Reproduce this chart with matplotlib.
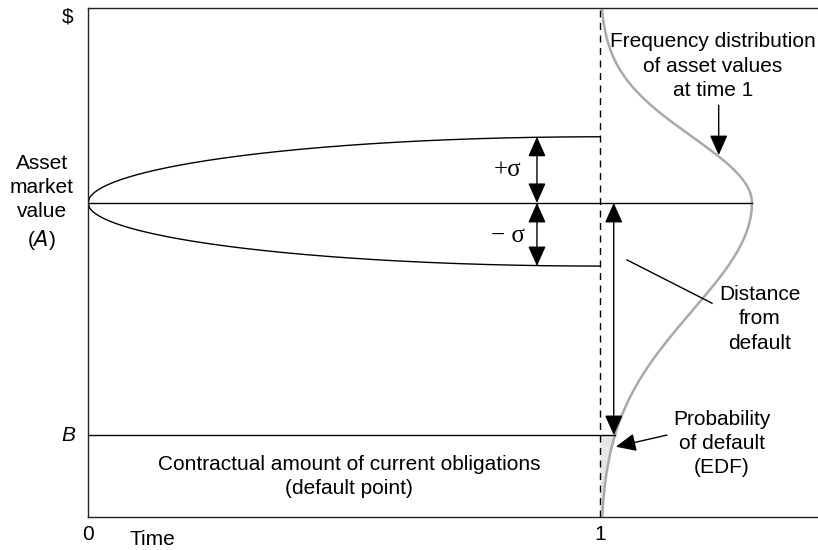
"""
KMV 模型示意圖：資產價值分佈、違約點與違約距離。
"""

import matplotlib
matplotlib.use("Agg")
import matplotlib.pyplot as plt
import numpy as np

plt.rcParams["font.family"] = ["Liberation Sans", "DejaVu Sans"]

# === 數值（由圖上讀取，y 軸以 0~100 的相對單位表示） ===
time_ticks = [0, 1]
time_labels = ["0", "1"]
asset_value = 61.7        # A：資產市值
default_point = 16.1      # B：違約點
sigma_up = 13.0           # +σ
sigma_down = 12.4         # -σ
dist_sd_upper = 13.0      # 分佈上半部寬度
dist_sd_lower = 21.2      # 分佈下半部寬度（左偏）
dist_peak = 0.297         # 分佈峰值在時間軸上的寬度
x_max = 1.426
y_max = 100.0

GRAY = "#a9a9a9"
FILL = "#e6e6e6"


def main() -> None:
    fig = plt.figure(figsize=(8.18, 5.5), dpi=100)
    ax = fig.add_axes([88 / 818, 33 / 550, 730 / 818, 509 / 550])
    ax.set_xlim(0, x_max)
    ax.set_ylim(0, y_max)

    for side in ["left", "bottom", "top"]:
        ax.spines[side].set_linewidth(1.0)
        ax.spines[side].set_color("#222222")
    ax.spines["right"].set_visible(False)
    ax.set_yticks([])
    ax.set_xticks(time_ticks)
    ax.set_xticklabels(time_labels, fontsize=15)
    ax.tick_params(axis="x", length=0, pad=6)

    # === 資產價值的 ±σ 包絡線（四分之一橢圓） ===
    t = np.linspace(0, 1, 300)
    spread = np.sqrt(np.clip(2 * t - t ** 2, 0, None))
    ax.plot(t, asset_value + sigma_up * spread, color="black", lw=1.0)
    ax.plot(t, asset_value - sigma_down * spread, color="black", lw=1.0)

    # 時間 1 的虛線
    ax.plot([1, 1], [0, y_max], color="black", lw=1.0, ls=(0, (5, 4)))

    # === 時間 1 的資產價值分佈 ===
    y = np.linspace(0, y_max, 600)
    sd = np.where(y >= asset_value, dist_sd_upper, dist_sd_lower)
    dens = dist_peak * np.exp(-((y - asset_value) ** 2) / (2 * sd ** 2))
    ax.plot(1 + dens, y, color=GRAY, lw=1.8, solid_capstyle="butt")

    below = y <= default_point
    ax.fill_betweenx(y[below], 1, 1 + dens[below], color=FILL, lw=0)

    # 平均線與違約點
    ax.plot([0, 1 + dist_peak], [asset_value, asset_value], color="black", lw=1.0)
    b_edge = 1 + dist_peak * np.exp(-((default_point - asset_value) ** 2) / (2 * dist_sd_lower ** 2))
    ax.plot([0, b_edge], [default_point, default_point], color="black", lw=1.0)

    # === 箭頭 ===
    dbl = dict(arrowstyle="<|-|>,head_length=0.56,head_width=0.25", color="black", lw=1.0,
               mutation_scale=22, shrinkA=0, shrinkB=0)
    one = dict(arrowstyle="-|>,head_length=0.56,head_width=0.25", color="black", lw=1.0,
               mutation_scale=22, shrinkA=0, shrinkB=0)
    ax.annotate("", xy=(0.877, asset_value + sigma_up), xytext=(0.877, asset_value), arrowprops=dbl)
    ax.annotate("", xy=(0.877, asset_value - sigma_down), xytext=(0.877, asset_value), arrowprops=dbl)
    ax.annotate("", xy=(1.027, default_point), xytext=(1.027, asset_value), arrowprops=dbl)
    ax.annotate("", xy=(1.232, 71.1), xytext=(1.232, 80.9), arrowprops=one)
    ax.annotate("", xy=(1.031, 13.8), xytext=(1.131, 16.1), arrowprops=one)
    ax.plot([1.053, 1.219], [50.5, 42.0], color="black", lw=1.0)

    # === 文字 ===
    fs = 15
    ls = 1.34
    ax.text(0.82, 68.2, "+σ", family=["Liberation Serif"], fontsize=18, ha="center", va="center")
    ax.text(0.82, 55.2, "− σ", family=["Liberation Serif"], fontsize=18, ha="center", va="center")
    ax.text(1.221, 88.6, "Frequency distribution\nof asset values\nat time 1",
            fontsize=fs, ha="center", va="center", linespacing=ls)
    ax.text(1.3125, 38.9, "Distance\nfrom\ndefault",
            fontsize=fs, ha="center", va="center", linespacing=ls)
    ax.text(1.238, 14.5, "Probability\nof default\n(EDF)",
            fontsize=fs, ha="center", va="center", linespacing=ls)
    ax.text(0.51, 7.9, "Contractual amount of current obligations\n(default point)",
            fontsize=fs, ha="center", va="center", linespacing=ls)
    ax.text(-0.09, asset_value, "Asset\nmarket\nvalue\n($\\mathit{A}$)",
            fontsize=fs, ha="center", va="center", linespacing=ls, clip_on=False)
    ax.text(-0.039, 98.2, "$", fontsize=fs, ha="center", va="center", clip_on=False)
    ax.text(-0.039, default_point, "B", fontsize=fs, style="italic",
            ha="center", va="center", clip_on=False)
    ax.text(0.125, -4.5, "Time", fontsize=fs, ha="center", va="center", clip_on=False)

    fig.savefig("out.png", dpi=100)


if __name__ == "__main__":
    main()
